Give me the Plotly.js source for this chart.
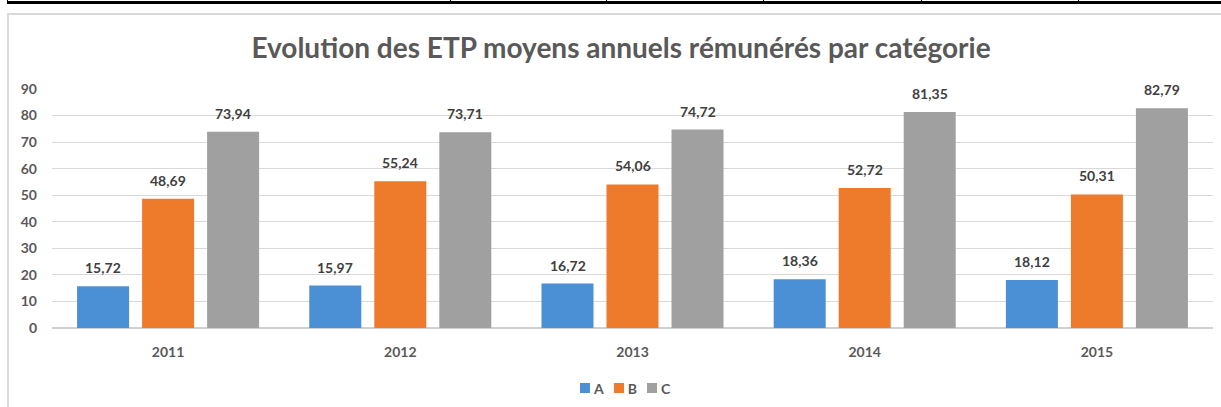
<!DOCTYPE html>
<html><head><meta charset="utf-8">
<script src="https://cdn.plot.ly/plotly-3.0.1.min.js"></script>
<style>
html,body{margin:0;padding:0;background:#fff;}
#wrap{position:relative;width:1221px;height:407px;overflow:hidden;}
#chart{position:absolute;left:0;top:0;width:1221px;height:407px;}
#topline{position:absolute;left:7px;top:1px;width:1214px;height:3px;background:#000;}
.vt{position:absolute;top:0;width:1px;height:4px;background:#000;}
#frame{position:absolute;left:7px;top:13px;width:1230px;height:410px;border:2px solid #d9d9d9;box-sizing:border-box;}
#legend{position:absolute;left:580px;top:380px;height:16px;display:flex;align-items:center;
  font-family:Lato,"Open Sans",sans-serif;font-weight:bold;font-size:14px;color:#595959;}
.li{display:flex;align-items:center;margin-right:10px;}
.sw{width:10px;height:10px;margin-right:4px;}
</style></head>
<body><div id="wrap">
<div id="frame"></div>
<div id="chart"></div>
<div id="legend"></div>
<div id="topline"></div>
<div class="vt" style="left:7px"></div>
<div class="vt" style="left:450px"></div>
<div class="vt" style="left:606px"></div>
<div class="vt" style="left:763px"></div>
<div class="vt" style="left:921px"></div>
<div class="vt" style="left:1078px"></div>
</div>
<script>
const years = ['2011','2012','2013','2014','2015'];
const seriesNames = ['A','B','C'];
const valuesA = [15.72,15.97,16.72,18.36,18.12];
const valuesB = [48.69,55.24,54.06,52.72,50.31];
const valuesC = [73.94,73.71,74.72,81.35,82.79];
const colors = ['#4b8fd5','#ee7a2b','#a0a0a0'];
const allValues = [valuesA, valuesB, valuesC];

const font = 'Lato, "Open Sans", sans-serif';
const traces = allValues.map((v,i)=>({
  type:'bar', name:seriesNames[i], x:years, y:v,
  marker:{color:colors[i], line:{width:0}},
  hoverinfo:'none', showlegend:false
}));
const annotations = [];
allValues.forEach((v,i)=>{
  v.forEach((val,j)=>{
    annotations.push({x:j, y:val, xref:'x', yref:'y',
      text:val.toFixed(2).replace('.',','), showarrow:false,
      xshift:(i-1)*65, yshift:8, yanchor:'bottom',
      font:{family:font, size:14, color:'#404040', weight:'bold'}});
  });
});
const layout = {
  width:1221, height:407,
  paper_bgcolor:'rgba(0,0,0,0)', plot_bgcolor:'rgba(0,0,0,0)',
  margin:{l:52, r:8, t:89, b:79, autoexpand:false},
  barmode:'group', bargap:0.16, bargroupgap:0.2,
  title:{text:'<b>Evolution des ETP moyens annuels rémunérés par catégorie</b>',
    x:621/1221, xanchor:'center', xref:'container', y:1-48/407, yanchor:'middle', yref:'container',
    font:{family:font, size:28, color:'#595959'}},
  xaxis:{type:'category', range:[-0.5,4.5], autorange:false, showgrid:false, showline:false, zeroline:false,
    ticks:'', ticklabelstandoff:14,
    tickfont:{family:font, size:14, color:'#595959', weight:'bold'}},
  yaxis:{range:[0,90], autorange:false, dtick:10, showgrid:true, gridcolor:'#d9d9d9', gridwidth:1,
    zeroline:true, zerolinecolor:'#d0d0d0', zerolinewidth:1.5, showline:false,
    ticks:'', ticklabelstandoff:14,
    tickfont:{family:font, size:14, color:'#595959', weight:'bold'}},
  showlegend:false,
  annotations:annotations
};
Plotly.newPlot('chart', traces, layout, {displayModeBar:false, staticPlot:true});

// legend built from series names and colours
const lg = document.getElementById('legend');
seriesNames.forEach((n,i)=>{
  const it = document.createElement('div'); it.className='li';
  const sw = document.createElement('div'); sw.className='sw'; sw.style.background=colors[i];
  const tx = document.createElement('span'); tx.textContent=n;
  it.appendChild(sw); it.appendChild(tx); lg.appendChild(it);
});
</script></body></html>
